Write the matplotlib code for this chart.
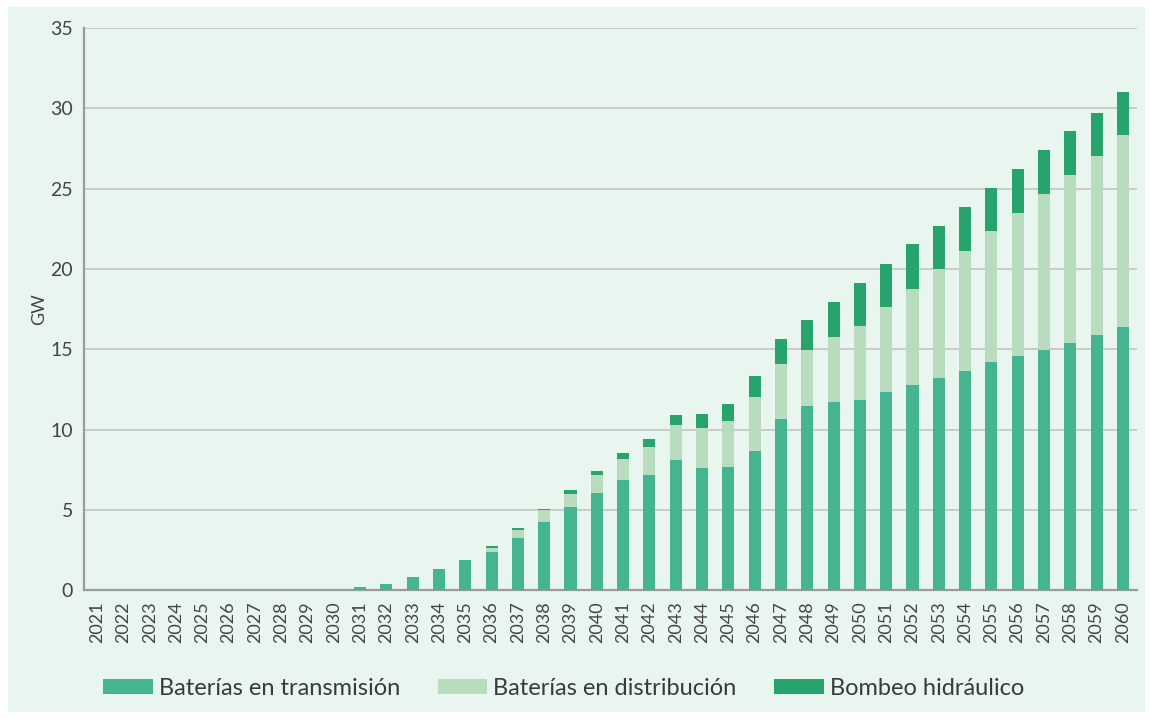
import numpy as np
import matplotlib.pyplot as plt
from matplotlib.patches import Rectangle

# Years and stacked capacities (GW)
years = [str(y) for y in range(2021, 2061)]

transmision = [0, 0, 0, 0, 0, 0, 0, 0, 0, 0,
               0.2, 0.4, 0.8, 1.35, 1.9, 2.4, 3.28, 4.27, 5.19, 6.08,
               6.85, 7.16, 8.14, 7.62, 7.68, 8.67, 10.65, 11.47, 11.72, 11.87,
               12.32, 12.76, 13.24, 13.68, 14.2, 14.59, 14.96, 15.4, 15.88, 16.4]

# cumulative tops, converted to segment heights below
top_dist = [0, 0, 0, 0, 0, 0, 0, 0, 0, 0,
            0.2, 0.4, 0.8, 1.35, 1.9, 2.63, 3.74, 4.98, 6.02, 7.16,
            8.2, 8.92, 10.27, 10.13, 10.52, 12.04, 14.1, 14.93, 15.77, 16.44,
            17.64, 18.78, 19.99, 21.13, 22.34, 23.48, 24.68, 25.83, 27.05, 28.34]

top_total = [0, 0, 0, 0, 0, 0, 0, 0, 0, 0,
             0.2, 0.4, 0.8, 1.35, 1.9, 2.74, 3.88, 5.08, 6.23, 7.45,
             8.57, 9.4, 10.94, 11.0, 11.58, 13.35, 15.63, 16.81, 17.95, 19.16,
             20.3, 21.53, 22.65, 23.87, 25.02, 26.22, 27.38, 28.59, 29.73, 31.0]

transmision = np.array(transmision)
distribucion = np.array(top_dist) - transmision
bombeo = np.array(top_total) - np.array(top_dist)

labels = ['Baterías en transmisión', 'Baterías en distribución', 'Bombeo hidráulico']
colors = ['#45b591', '#b8dcbd', '#27a46b']

plt.rcParams['font.family'] = ['Lato', 'DejaVu Sans']

fig = plt.figure(figsize=(11.5, 7.19), dpi=100, facecolor='white')
# mint background panel
fig.patches.append(Rectangle((8 / 1150, 7 / 719), 1137 / 1150, 705 / 719,
                             transform=fig.transFigure, facecolor='#e9f6f0',
                             edgecolor='none', zorder=-5))

ax = fig.add_axes([0.073, 0.179, 0.916, 0.782])
ax.set_facecolor('none')
ax.set_zorder(2)

x = np.arange(len(years))
w = 0.46
ax.bar(x, transmision, w, color=colors[0], label=labels[0], zorder=3)
ax.bar(x, distribucion, w, bottom=transmision, color=colors[1], label=labels[1], zorder=3)
ax.bar(x, bombeo, w, bottom=transmision + distribucion, color=colors[2], label=labels[2], zorder=3)

ax.set_ylim(0, 35)
ax.set_xlim(-0.5, 39.55)
ax.set_yticks(range(0, 36, 5))
ax.yaxis.grid(True, color='#c9cbc9', linewidth=1.4, zorder=0)
ax.set_axisbelow(True)

ax.set_xticks(x)
ax.set_xticklabels(years, rotation=90, fontsize=13, color='#444444')
ax.tick_params(axis='y', labelsize=14, colors='#444444', length=0, pad=8)
ax.tick_params(axis='x', length=0, pad=8)

for s in ['top', 'right']:
    ax.spines[s].set_visible(False)
for s in ['left', 'bottom']:
    ax.spines[s].set_color('#9a9a9a')
    ax.spines[s].set_linewidth(1.6)

ax.set_ylabel('GW', fontsize=13, color='#444444', labelpad=2)

fig.legend(loc='center', bbox_to_anchor=(0.49, 0.043), ncol=3, frameon=False,
           fontsize=17, handlelength=2.1, handleheight=0.6, handletextpad=0.25,
           columnspacing=1.6, labelcolor='#3a3a3a')

fig.savefig('out.png', dpi=100, facecolor=fig.get_facecolor())
